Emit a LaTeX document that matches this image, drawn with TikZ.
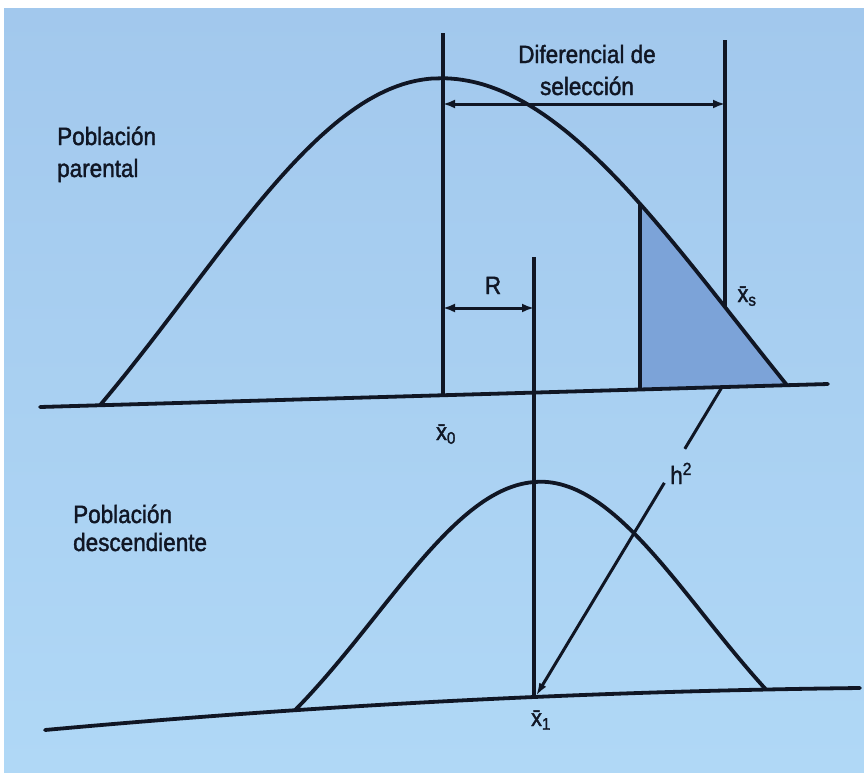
\documentclass[tikz,border=0pt]{standalone}
\usepackage{amsmath}
\usepackage{fontspec}
\setmainfont{Liberation Sans}[FakeStretch=0.9, FakeBold=1.6]
\usetikzlibrary{arrows.meta,calc}
\definecolor{bgtop}{RGB}{162,200,237}
\definecolor{bgbot}{RGB}{176,216,246}
\definecolor{shadefill}{RGB}{124,163,216}
\definecolor{ink}{RGB}{16,22,36}
\tikzset{
  declare function={
    tb(\x)=407-0.029188*(\x-40);
    gL(\x)=(exp(-((\x-437)/100)*((\x-437)/100)/12.5)-exp(-3.37*3.37/12.5))/(1-exp(-3.37*3.37/12.5));
    gR(\x)=(exp(-((\x-437)/100)*((\x-437)/100)/18)-exp(-3.5*3.5/18))/(1-exp(-3.5*3.5/18));
    ytopL(\x)=tb(\x)-317*gL(\x);
    ytopR(\x)=tb(\x)-317*gR(\x);
    bb(\x)=730-9.14*((\x-45)/100)+0.489*((\x-45)/100)*((\x-45)/100);
    hL(\x)=(exp(-((\x-537)/100)*((\x-537)/100)/5.12)-exp(-2.42*2.42/5.12))/(1-exp(-2.42*2.42/5.12));
    hR(\x)=(exp(-((\x-537)/100)*((\x-537)/100)/5.445)-exp(-2.29*2.29/5.445))/(1-exp(-2.29*2.29/5.445));
    ybL(\x)=bb(\x)-215*hL(\x);
    ybR(\x)=bb(\x)-215*hR(\x);
  },
  curve/.style={line width=3.8pt, draw=ink, line join=round, line cap=round},
  axis/.style={line width=3.8pt, draw=ink, line cap=round},
  guide/.style={line width=3.3pt, draw=ink},
  dimarrow/.style={line width=3.0pt, draw=ink, {Latex[length=12pt,width=9pt]}-{Latex[length=12pt,width=9pt]}},
  onearrow/.style={line width=3.0pt, draw=ink, -{Latex[length=13pt,width=8pt]}},
  lbl/.style={text=ink, inner sep=0pt, font=\fontsize{25}{30}\selectfont},
  sym/.style={text=ink, inner sep=0pt, font=\fontsize{24}{30}\selectfont}
}
\begin{document}
\begin{tikzpicture}[x=1pt,y=-1pt]
\useasboundingbox (0,0) rectangle (864,772);
\fill[white] (0,0) rectangle (864,772);
\shade[top color=bgtop, bottom color=bgbot] (4,8) rectangle (864,772);

% named points
\coordinate (tbL) at (40,407);
\coordinate (tbR) at (828,384);
\coordinate (x0T) at (443,33);
\coordinate (x0B) at (443,{tb(443)});
\coordinate (xsT) at (725,40);
\coordinate (xsC) at (725,{ytopR(725)});
\coordinate (x1T) at (534,257);
\coordinate (x1B) at (534,{bb(534)});
\coordinate (shT) at (640,{ytopR(640)});
\coordinate (shB) at (640,{tb(640)});
\coordinate (dsL) at (443,104);
\coordinate (dsR) at (725,104);
\coordinate (rL) at (443,308);
\coordinate (rR) at (534,308);
\coordinate (h2S) at (722,{tb(722)});
\coordinate (h2E) at (536,{bb(536)-1});
\coordinate (h2a) at ($(h2S)!0.2!(h2E)$);
\coordinate (h2b) at ($(h2S)!0.31!(h2E)$);

% shaded selected tail
\fill[shadefill] plot[domain=640:787, samples=40] ({\x},{ytopR(\x)}) -- (shB) -- cycle;

% parental curve and baseline
\draw[curve] plot[domain=100:437, samples=70] ({\x},{ytopL(\x)}) -- plot[domain=437:787, samples=70] ({\x},{ytopR(\x)});
\draw[axis] (tbL) -- (tbR);

% offspring curve and baseline
\draw[curve] plot[domain=295:537, samples=60] ({\x},{ybL(\x)}) -- plot[domain=537:766, samples=60] ({\x},{ybR(\x)});
\draw[axis] plot[domain=45:860, samples=60] ({\x},{bb(\x)});

% vertical guides
\draw[guide] (x0T) -- (x0B);
\draw[guide] (xsT) -- (xsC);
\draw[guide] (x1T) -- (x1B);
\draw[guide] (shB) -- (shT);

% dimension arrows
\draw[dimarrow] (dsL) -- (dsR);
\draw[dimarrow] (rL) -- (rR);
\draw[line width=3.0pt, draw=ink] (h2S) -- (h2a);
\draw[onearrow] (h2b) -- (h2E);

% labels
\node[lbl, anchor=base] (dif1) at (587,63) {Diferencial de};
\node[lbl, anchor=base] (dif2) at (587,95) {selección};
\node[lbl, anchor=base west] (pp1) at (57,145) {Población};
\node[lbl, anchor=base west] (pp2) at (57,177) {parental};
\node[lbl, anchor=base west] (pd1) at (73,523) {Población};
\node[lbl, anchor=base west] (pd2) at (73,551) {descendiente};
\node[lbl, anchor=base] (R) at (493,294) {R};
\node[lbl, anchor=base west] (h2) at (670,484) {h\textsuperscript{2}};
\node[sym, anchor=base] (x0) at (446,440) {x\char"0304\textsubscript{0}};
\node[sym, anchor=base] (xs) at (747,302) {x\char"0304\textsubscript{s}};
\node[sym, anchor=base] (x1) at (541,726) {x\char"0304\textsubscript{1}};
\end{tikzpicture}
\end{document}
